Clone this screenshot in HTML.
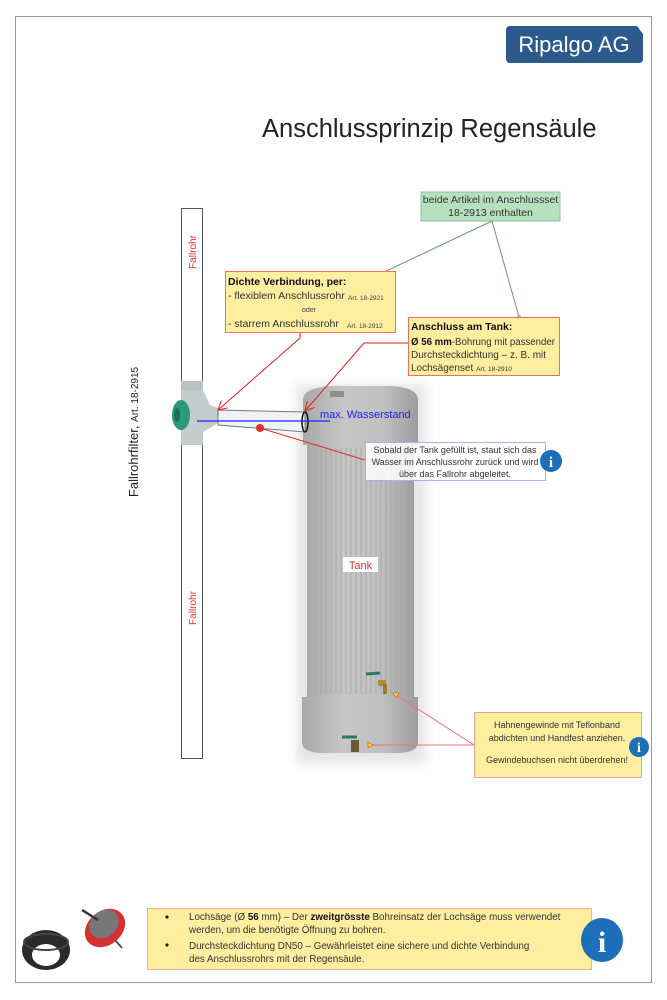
<!DOCTYPE html>
<html><head><meta charset="utf-8"><style>
html,body{margin:0;padding:0;background:#fff}
svg{display:block;font-family:"Liberation Sans",sans-serif}
</style></head><body>
<svg width="667" height="1000" viewBox="0 0 667 1000" xmlns="http://www.w3.org/2000/svg">
<defs>
<filter id="bl" x="-20%" y="-20%" width="140%" height="140%"><feGaussianBlur stdDeviation="5"/></filter>
<linearGradient id="tg" x1="0" x2="1"><stop offset="0" stop-color="#a8a8a8"/><stop offset="0.35" stop-color="#c6c6c6"/><stop offset="0.7" stop-color="#c0c0c0"/><stop offset="1" stop-color="#9c9c9c"/></linearGradient>
<pattern id="fl" width="5" height="10" patternUnits="userSpaceOnUse"><rect width="5" height="10" fill="none"/><line x1="1" y1="0" x2="1" y2="10" stroke="#a9a9a9" stroke-width="1"/></pattern>
<marker id="ar" markerWidth="10" markerHeight="10" refX="9" refY="5" orient="auto" markerUnits="userSpaceOnUse"><path d="M0,0 L9,5 L0,10" fill="none" stroke="#e02020" stroke-width="1"/></marker>
</defs>
<rect x="15.5" y="16.5" width="636" height="966" fill="#fff" stroke="#999"/>
<rect x="506" y="26" width="137" height="37" rx="4" fill="#2d5a8c"/>
<path d="M637,26 L643,26 L643,34 Z" fill="#fff"/>
<text x="574" y="52" font-size="22" fill="#fff" text-anchor="middle">Ripalgo AG</text>
<text x="262" y="137" font-size="25.5" fill="#222">Anschlussprinzip Regensäule</text>
<rect x="181.5" y="208.5" width="21" height="550" fill="#fff" stroke="#555"/>
<text transform="translate(196,252) rotate(-90)" font-size="10" fill="#e03030" text-anchor="middle">Fallrohr</text>
<text transform="translate(196,608) rotate(-90)" font-size="10" fill="#e03030" text-anchor="middle">Fallrohr</text>
<text transform="translate(138,432) rotate(-90)" font-size="13" fill="#222" text-anchor="middle">Fallrohrfilter, <tspan font-size="10">Art. 18-2915</tspan></text>
<rect x="296" y="384" width="130" height="380" fill="#e6e6e6" filter="url(#bl)"/>
<path d="M303,445 L303,400 Q303,388 330,386 L392,386 Q418,388 418,400 L418,445 Z" fill="url(#tg)"/>
<rect x="330" y="391" width="14" height="6" fill="#8f8f8f"/>
<rect x="307" y="445" width="107" height="252" fill="url(#tg)"/>
<rect x="309" y="448" width="103" height="246" fill="url(#fl)"/>
<path d="M302,697 L418,697 L418,742 Q418,752 400,753 L320,753 Q302,752 302,742 Z" fill="url(#tg)"/>
<rect x="343" y="557" width="35" height="15" fill="#fff"/>
<text x="360.5" y="569" font-size="11" fill="#e03030" text-anchor="middle">Tank</text>
<path d="M366,674 L380,673" stroke="#2a7a64" stroke-width="3"/>
<rect x="378" y="680" width="8" height="6" fill="#b08a40"/><rect x="383" y="684" width="4" height="10" fill="#9a7a30"/>
<path d="M342,737 L357,737" stroke="#2a7a64" stroke-width="3"/>
<rect x="351" y="740" width="8" height="12" fill="#6a5a30"/>
<rect x="181" y="381" width="22" height="12" fill="#b9c3c3"/>
<path d="M181,390 L203,390 L210,405 L218,408 L218,423 L210,428 L203,432 L203,445 L181,445 Z" fill="#c4cccc"/>
<ellipse cx="181" cy="415" rx="9" ry="15" fill="#2a9a78"/>
<ellipse cx="177" cy="415" rx="3" ry="7" fill="#1c6e56"/>
<path d="M218,410 L305,412 L305,432 L218,425 Z" fill="#eef3f6" stroke="#777" stroke-width="1"/>
<ellipse cx="305" cy="422" rx="3" ry="10" fill="none" stroke="#111" stroke-width="1.5"/>
<line x1="197" y1="421" x2="330" y2="421" stroke="#2020ff" stroke-width="1.2"/>
<text x="320" y="418" font-size="11" fill="#2020ff">max. Wasserstand</text>
<polyline points="300,333 300,338 218,410" fill="none" stroke="#e02020" marker-end="url(#ar)"/>
<polyline points="408,343 364,343 305,411" fill="none" stroke="#e02020" marker-end="url(#ar)"/>
<line x1="260" y1="428" x2="365" y2="460" stroke="#e03030"/>
<circle cx="260" cy="428" r="4" fill="#e03030"/>
<rect x="421" y="192" width="139" height="29" fill="#b7e1be" stroke="#8cc49a"/>
<text x="490.5" y="203" font-size="10.5" fill="#333" text-anchor="middle">beide Artikel im Anschlussset</text>
<text x="490.5" y="216" font-size="10.5" fill="#333" text-anchor="middle">18-2913 enthalten</text>
<line x1="492" y1="221" x2="346" y2="290" stroke="#6a9a70"/>
<path d="M346,287 L349,292 L343,292 Z" fill="#fff" stroke="#6a9a70" stroke-width="0.8"/>
<line x1="492" y1="221" x2="519" y2="317" stroke="#6a9a70"/>
<circle cx="519" cy="317" r="2" fill="#8cc49a"/>
<rect x="225.5" y="271.5" width="170" height="61" fill="#fdeea0" stroke="#f07060"/>
<text x="228" y="285" font-size="10.5" font-weight="bold" fill="#111">Dichte Verbindung, per:</text>
<text x="228" y="299" font-size="10.5" fill="#333">- flexiblem Anschlussrohr</text>
<text x="348" y="300" font-size="6.5" fill="#444">Art. 18-2921</text>
<text x="309" y="312" font-size="7" fill="#444" text-anchor="middle">oder</text>
<text x="228" y="327" font-size="10.5" fill="#333">- starrem Anschlussrohr</text>
<text x="347" y="328" font-size="6.5" fill="#444">Art. 18-2912</text>
<rect x="408.5" y="317.5" width="151" height="58" fill="#fdeea0" stroke="#f07060"/>
<text x="411" y="330" font-size="10.5" font-weight="bold" fill="#111">Anschluss am Tank:</text>
<text x="411" y="345" font-size="10" fill="#333" textLength="144" lengthAdjust="spacingAndGlyphs"><tspan font-weight="bold" fill="#111">Ø 56 mm</tspan>-Bohrung mit passender</text>
<text x="411" y="358" font-size="10" fill="#333">Durchsteckdichtung – z. B. mit</text>
<text x="411" y="371" font-size="10" fill="#333">Lochsägenset <tspan font-size="6.5">Art. 18-2910</tspan></text>
<rect x="365.5" y="442.5" width="180" height="38" fill="#fff" fill-opacity="0.85" stroke="#aab0f0"/>
<text x="455" y="453" font-size="9" fill="#333" text-anchor="middle">Sobald der Tank gefüllt ist, staut sich das</text>
<text x="455" y="465" font-size="9" fill="#333" text-anchor="middle">Wasser im Anschlussrohr zurück und wird</text>
<text x="455" y="477" font-size="9" fill="#333" text-anchor="middle">über das Fallrohr abgeleitet.</text>
<circle cx="551" cy="461" r="11" fill="#1d6fb8"/>
<text x="551" y="467" font-size="15" font-weight="bold" fill="#fff" text-anchor="middle" font-family="Liberation Serif,serif">i</text>
<line x1="396" y1="695" x2="474" y2="745" stroke="#f07070"/>
<line x1="370" y1="745" x2="474" y2="745" stroke="#f07070"/>
<path d="M393,693 L399,693 L396,698 Z" fill="#f5e000" stroke="#e04040" stroke-width="0.6"/>
<path d="M368,742 L368,748 L373,745 Z" fill="#f5e000" stroke="#e04040" stroke-width="0.6"/>
<rect x="474.5" y="712.5" width="167" height="65" fill="#fdeea0" stroke="#f5a090"/>
<text x="557" y="728" font-size="9" fill="#333" text-anchor="middle">Hahnengewinde mit Teflonband</text>
<text x="557" y="741" font-size="9" fill="#333" text-anchor="middle">abdichten und Handfest anziehen.</text>
<text x="557" y="763" font-size="9" fill="#333" text-anchor="middle">Gewindebuchsen nicht überdrehen!</text>
<circle cx="639" cy="747" r="10" fill="#1d6fb8"/>
<text x="639" y="752" font-size="14" font-weight="bold" fill="#fff" text-anchor="middle" font-family="Liberation Serif,serif">i</text>
<rect x="147.5" y="908.5" width="444" height="61" fill="#fdeea0" stroke="#f5b090"/>
<circle cx="167" cy="917" r="1.6" fill="#222"/><circle cx="167" cy="945" r="1.6" fill="#222"/>
<text x="189" y="920" font-size="9.8" fill="#333">Lochsäge (Ø <tspan font-weight="bold" fill="#111">56</tspan> mm) – Der <tspan font-weight="bold" fill="#111">zweitgrösste</tspan> Bohreinsatz der Lochsäge muss verwendet</text>
<text x="189" y="933" font-size="9.8" fill="#333">werden, um die benötigte Öffnung zu bohren.</text>
<text x="189" y="949" font-size="9.8" fill="#333">Durchsteckdichtung DN50 – Gewährleistet eine sichere und dichte Verbindung</text>
<text x="189" y="962" font-size="9.8" fill="#333">des Anschlussrohrs mit der Regensäule.</text>
<ellipse cx="602" cy="940" rx="21" ry="22" fill="#1d6fb8"/>
<text x="602" y="952" font-size="30" font-weight="bold" fill="#fff" text-anchor="middle" font-family="Liberation Serif,serif">i</text>
<ellipse cx="46" cy="950" rx="24" ry="20" fill="#2a2a2a"/>
<ellipse cx="46" cy="955" rx="14" ry="11" fill="#fff"/>
<ellipse cx="46" cy="942" rx="22" ry="8" fill="none" stroke="#444" stroke-width="2"/>
<ellipse cx="105" cy="928" rx="22" ry="17" transform="rotate(-40 105 928)" fill="#d83030"/>
<ellipse cx="104" cy="924" rx="16" ry="13" transform="rotate(-40 104 924)" fill="#777"/>
<line x1="82" y1="910" x2="98" y2="920" stroke="#333" stroke-width="2.5"/>
<line x1="115" y1="940" x2="122" y2="948" stroke="#555" stroke-width="2"/>
</svg>
</body></html>
